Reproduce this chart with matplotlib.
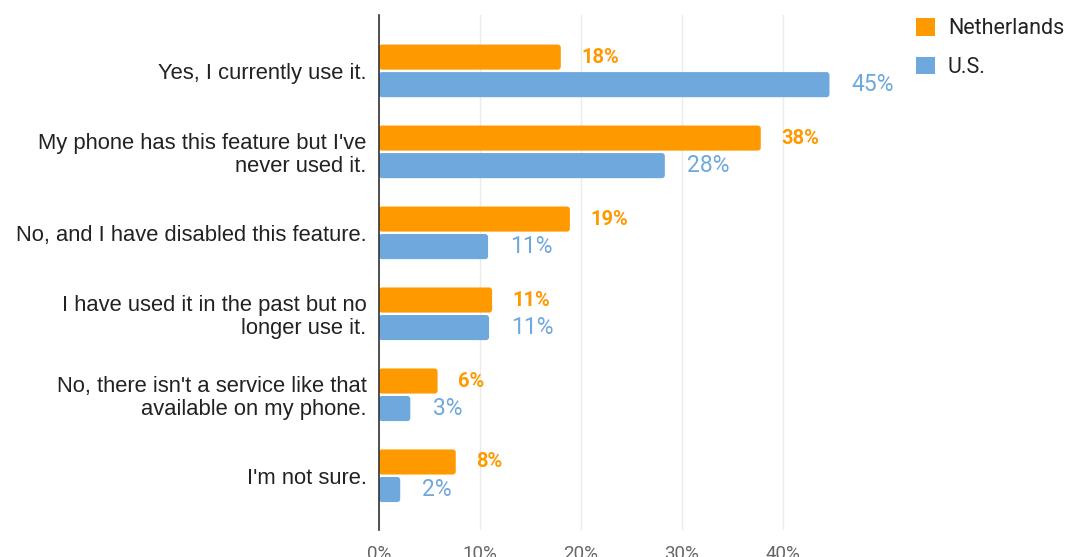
import matplotlib
matplotlib.use("Agg")
import matplotlib.pyplot as plt
import numpy as np
from matplotlib.patches import FancyBboxPatch, Patch
from matplotlib.ticker import FuncFormatter

CATEGORIES = [
    "Yes, I currently use it.",
    "My phone has this feature but I've\nnever used it.",
    "No, and I have disabled this feature.",
    "I have used it in the past but no\nlonger use it.",
    "No, there isn't a service like that\navailable on my phone.",
    "I'm not sure.",
]
NETHERLANDS = [18.0, 37.8, 18.9, 11.2, 5.8, 7.6]
US = [44.6, 28.3, 10.8, 10.9, 3.1, 2.1]
SERIES = ["Netherlands", "U.S."]
XTICKS = [0, 10, 20, 30, 40]

ORANGE = "#ff9900"
BLUE = "#6fa8dc"

W, H = 1069, 557
fig = plt.figure(figsize=(W / 100, H / 100), dpi=100)
ax = fig.add_axes([379 / W, 1 - 530 / H, (870 - 379) / W, (530 - 15) / H])

y = np.arange(len(CATEGORIES))
bh = 0.31
gap = 0.015
nl_bars = ax.barh(y - bh / 2 - gap, NETHERLANDS, height=bh, color=ORANGE, zorder=3)
us_bars = ax.barh(y + bh / 2 + gap, US, height=bh, color=BLUE, zorder=3)

ax.set_xlim(0, (870 - 379) / 101 * 10)
ax.set_ylim(5.67, -0.69)

# swap the plain rectangles for slightly rounded ones
x_per_px = ax.get_xlim()[1] / 491
y_per_px = 6.36 / 515
for bars, col in ((nl_bars, ORANGE), (us_bars, BLUE)):
    for p in bars:
        p.set_visible(False)
        ax.add_patch(FancyBboxPatch((p.get_x(), p.get_y()), p.get_width(), p.get_height(),
                                    boxstyle=f"round,pad=0,rounding_size={3 * x_per_px}",
                                    mutation_aspect=y_per_px / x_per_px,
                                    facecolor=col, edgecolor="none", zorder=3))

for yi, v in zip(y, NETHERLANDS):
    ax.text(v + 2.0, yi - bh / 2 - gap, f"{v:.0f}%", va="center", ha="left",
            color=ORANGE, fontsize=14.5, fontweight="bold", family="Roboto")
for yi, v in zip(y, US):
    ax.text(v + 2.2, yi + bh / 2 + gap, f"{v:.0f}%", va="center", ha="left",
            color=BLUE, fontsize=16.5, family="Roboto")

ax.set_yticks(y)
ax.set_yticklabels(CATEGORIES, fontsize=15.8, family="Liberation Sans", color="#222222",
                   linespacing=1.1)
ax.tick_params(axis="y", length=0, pad=9)
ax.set_xticks(XTICKS)
ax.xaxis.set_major_formatter(FuncFormatter(lambda v, _p: f"{v:.0f}%"))
ax.tick_params(axis="x", length=0, pad=11, labelsize=13.5, labelcolor="#666666")
for lab in ax.get_xticklabels():
    lab.set_family("Roboto")

ax.grid(axis="x", color="#ebebeb", linewidth=1, zorder=0)
for s in ["top", "right", "bottom"]:
    ax.spines[s].set_visible(False)
ax.spines["left"].set_color("#333333")
ax.spines["left"].set_linewidth(1.2)
ax.spines["left"].set_zorder(4)

handles = [Patch(facecolor=ORANGE, label=SERIES[0]), Patch(facecolor=BLUE, label=SERIES[1])]
leg = fig.legend(handles=handles, loc="upper left", bbox_to_anchor=(897 / W, 1 + 1 / H),
                 frameon=False, prop={"family": "Roboto", "size": 15.5},
                 handlelength=0.86, handleheight=0.86, handletextpad=0.6, labelspacing=0.8)
for t in leg.get_texts():
    t.set_color("#222222")

fig.savefig("out.png", dpi=100)
